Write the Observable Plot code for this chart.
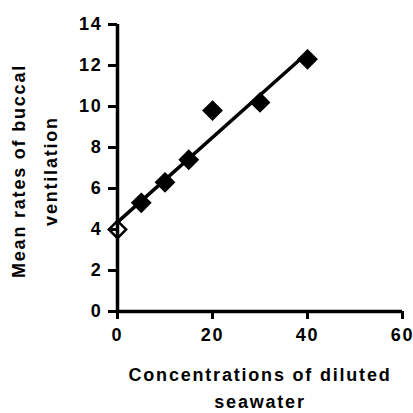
<!DOCTYPE html>
<html>
<head>
<meta charset="utf-8">
<script src="https://cdn.jsdelivr.net/npm/d3@7"></script>
<script src="https://cdn.jsdelivr.net/npm/@observablehq/plot@0.6"></script>
<style>
  html, body { margin: 0; padding: 0; background: white; }
</style>
</head>
<body>
<div id="chart"></div>
<script>
const concentrations = [0, 5, 10, 15, 20, 30, 40];
const ventilationRates = [4.0, 5.3, 6.3, 7.4, 9.8, 10.2, 12.3];
const xTicks = [0, 20, 40, 60];
const yTicks = [0, 2, 4, 6, 8, 10, 12, 14];
const xTitleLines = ["Concentrations of diluted", "seawater"];
const yTitleLines = ["Mean rates of buccal", "ventilation"];

const data = concentrations.map((x, i) => ({x, y: ventilationRates[i]}));

const chart = Plot.plot({
  width: 413,
  height: 413,
  marginLeft: 117,
  marginRight: 11,
  marginTop: 24,
  marginBottom: 102,
  style: {
    fontFamily: "'Liberation Sans', Arial, sans-serif",
    fontWeight: "bold",
    letterSpacing: "1.8px",
    background: "white",
    color: "black"
  },
  x: {domain: [0, 60]},
  y: {domain: [0, 14]},
  marks: [
    Plot.axisX({ticks: xTicks, tickSize: 8, tickPadding: 9, strokeWidth: 3, fontSize: 18, fontWeight: "bold", label: null, tickFormat: d => String(d)}),
    Plot.axisY({ticks: yTicks, tickSize: 9, tickPadding: 6, strokeWidth: 3, fontSize: 18, fontWeight: "bold", label: null, tickFormat: d => String(d)}),
    Plot.ruleY([0], {strokeWidth: 3.5}),
    Plot.ruleX([0], {strokeWidth: 3.5}),
    Plot.linearRegressionY(data, {x: "x", y: "y", ci: 0, stroke: "black", strokeWidth: 3.5}),
    Plot.dot(data, {x: "x", y: "y", symbol: "diamond2", r: 7.8, fill: (d, i) => i === 0 ? "none" : "black", stroke: "black", strokeWidth: 2.5}),
    Plot.text([xTitleLines[0]], {frameAnchor: "bottom", dy: 64, textAnchor: "middle", lineAnchor: "middle", fontSize: 18, fontWeight: "bold"}),
    Plot.text([xTitleLines[1]], {frameAnchor: "bottom", dy: 91, textAnchor: "middle", lineAnchor: "middle", fontSize: 18, fontWeight: "bold"}),
    Plot.text([yTitleLines[0]], {frameAnchor: "left", rotate: -90, dx: -98, dy: 3, textAnchor: "middle", lineAnchor: "middle", fontSize: 18, fontWeight: "bold"}),
    Plot.text([yTitleLines[1]], {frameAnchor: "left", rotate: -90, dx: -66, dy: 3, textAnchor: "middle", lineAnchor: "middle", fontSize: 18, fontWeight: "bold"})
  ]
});

document.getElementById("chart").append(chart);
</script>
</body>
</html>
